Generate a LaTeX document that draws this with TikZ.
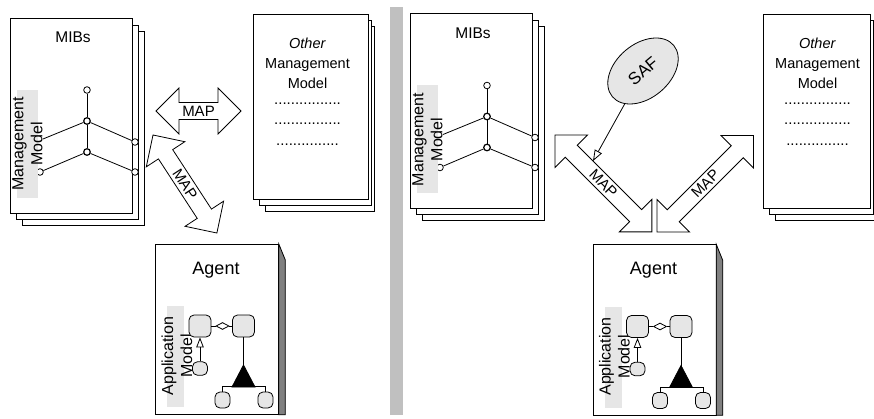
\documentclass[tikz,border=0pt]{standalone}
\usepackage{fontspec}
\setmainfont{Liberation Sans}
\usetikzlibrary{shapes.geometric,arrows.meta}

\definecolor{labelgray}{HTML}{E6E6E6}
\definecolor{sidegray}{HTML}{808080}
\definecolor{bargray}{HTML}{C0C0C0}

\tikzset{
  ln/.style={line width=0.8pt},
  page/.style={draw=black, fill=white, line width=0.8pt, inner sep=0pt},
  tnode/.style={circle, draw, fill=white, inner sep=0pt, minimum size=6.6pt, line width=0.8pt},
  hub/.style={tnode, line width=1.2pt},
  rotlabel/.style={rotate=90, align=center, inner sep=0pt, font=\fontsize{16}{19}\selectfont},
  titletext/.style={anchor=base, inner sep=0pt, font=\fontsize{15.5}{18}\selectfont},
  bodytext/.style={anchor=base, inner sep=0pt, font=\fontsize{14.5}{18}\selectfont},
  dotrow/.style={anchor=base, inner sep=0pt, font=\fontsize{15}{18}\selectfont},
  blockarrow/.style={draw=black, fill=white, line width=0.8pt, line join=miter},
  maptext/.style={inner sep=0pt, font=\fontsize{15}{18}\selectfont},
  cls/.style={draw, fill=labelgray, rounded corners=5pt, line width=0.8pt, inner sep=0pt},
  bigcls/.style={cls, minimum width=22pt, minimum height=22pt},
  smallcls/.style={cls, minimum width=15pt, minimum height=14pt},
  agg/.style={diamond, draw, fill=white, minimum width=13pt, minimum height=7pt, inner sep=0pt, line width=0.8pt},
  saf/.style={ellipse, draw, fill=labelgray, line width=0.8pt, minimum width=80pt, minimum height=54pt,
              inner sep=0pt, rotate=40, font=\fontsize{17}{20}\selectfont},
  % stack of MIB pages with the management tree
  pics/mibstack/.style={code={
    \draw[page] (22,31) rectangle (144,225);
    \draw[page] (16,25) rectangle (138,219);
    \node[page, anchor=north west, minimum width=122pt, minimum height=195pt] (-front) at (10,18) {};
    \node[titletext] (-title) at (73,43) {MIBs};
    \node[tnode] (-top) at (87,90) {};
    \node[hub] (-n1) at (87,121) {};
    \node[hub] (-n2) at (87,152) {};
    \node[tnode] (-r1) at (135,142) {};
    \node[tnode] (-r2) at (135,172) {};
    \node[tnode] (-l2) at (40,172) {};
    \coordinate (-l1) at (43,139);
    \draw[ln] (-top) -- (-n1) -- (-n2);
    \draw[ln] (-l1) -- (-n1) -- (-r1);
    \draw[ln] (-l2) -- (-n2) -- (-r2);
    \fill[labelgray] (17,90) rectangle (38,198);
    \node[rotlabel] (-model) at (27.5,144) {Management\\Model};
  }},
  % stack of pages for the other management model
  pics/otherstack/.style n args={2}{code={
    \draw[page] (12,12) rectangle ({#1+6},{#2+12});
    \draw[page] (6,6) rectangle ({#1+3},{#2+6});
    \node[page, anchor=north west, minimum width=#1pt, minimum height=#2pt] (-front) at (0,0) {};
    \node[bodytext] (-other) at (54.5,34.5) {\textit{Other}};
    \node[bodytext] (-mgmt) at (54.5,55) {Management};
    \node[bodytext] (-model) at (54.5,74.5) {Model};
    \node[dotrow] (-dots1) at (54.5,91) {................};
    \node[dotrow] (-dots2) at (54.5,111) {................};
    \node[dotrow] (-dots3) at (54.5,132) {...............};
  }},
  % agent card with its application model
  pics/agentcard/.style={code={
    \node[page, anchor=north west, minimum width=123pt, minimum height=170pt] (-card) at (155,244) {};
    \filldraw[ln, fill=sidegray] (-card.north east) -- ++(6.5,16) |- (-card.south east) -- cycle;
    \node[anchor=base, inner sep=0pt, font=\fontsize{18}{21}\selectfont] (-title) at (216,274.5) {Agent};
    \fill[labelgray] (167,306) rectangle (184,407);
    \node[rotlabel] (-model) at (177,356) {Application\\Model};
    \node[bigcls] (-a) at (200,326) {};
    \node[bigcls] (-b) at (243.5,326) {};
    \node[smallcls, minimum height=13.5pt] (-c) at (200,368.5) {};
    \node[smallcls, minimum height=16pt] (-d) at (222.5,400) {};
    \node[smallcls, minimum height=16pt] (-e) at (265.5,400) {};
    \node[agg] (-dia) at (222.5,326) {};
    \draw[ln] (-a) -- (-dia) -- (-b);
    \draw[ln, -{Triangle[open, length=10pt, width=7.5pt]}] (-c) -- (-a);
    \coordinate (-apex) at (243.5,365);
    \draw[ln] (-b) -- (-apex);
    \filldraw[ln, fill=black] (-apex) -- (255,387) -- (232,387) -- cycle;
    \draw[ln] (-d.north) -- ++(0,-5) -| (-e.north);
  }},
  % double-headed block arrow labelled MAP, drawn along the local x axis
  pics/maparrow/.style={code={
    \draw[blockarrow] (0,0) -- (23,23) -- (23,8.5) -- ({#1-23},8.5) -- ({#1-23},23) -- (#1,0)
      -- ({#1-23},-23) -- ({#1-23},-8.5) -- (23,-8.5) -- (23,-23) -- cycle;
    \node[maptext, transform shape] (-label) at ({#1/2},0) {MAP};
  }},
}

\begin{document}
\begin{tikzpicture}[x=1pt, y=-1pt]
\useasboundingbox (0,0) rectangle (874,419);

% left panel: direct mapping
\pic (mibL) at (0,0) {mibstack};
\pic (othL) at (253,14) {otherstack={115}{185}};
\pic (agL) at (0,0) {agentcard};
\pic (mapH) at (156,111) {maparrow=85};
\pic[rotate=-56.9] (mapD) at (153,135) {maparrow=117};

% separator
\fill[bargray] (390,7) rectangle (403,415);

% right panel: mapping through SAF
\pic (mibR) at (400,-4.5) {mibstack};
\pic (othR) at (763,14) {otherstack={107}{194}};
\pic (agR) at (437.5,0.5) {agentcard};
\pic[rotate=-45] (mapL) at (555,135) {maparrow=137};
\pic[rotate=45] (mapR) at (657,232) {maparrow=136.5};
\node[saf] (saf) at (643,71) {SAF};
\coordinate (safhit) at (593,161);
\draw[ln, -{Triangle[open, length=11pt, width=8pt]}] (saf) -- (safhit);
\end{tikzpicture}
\end{document}
